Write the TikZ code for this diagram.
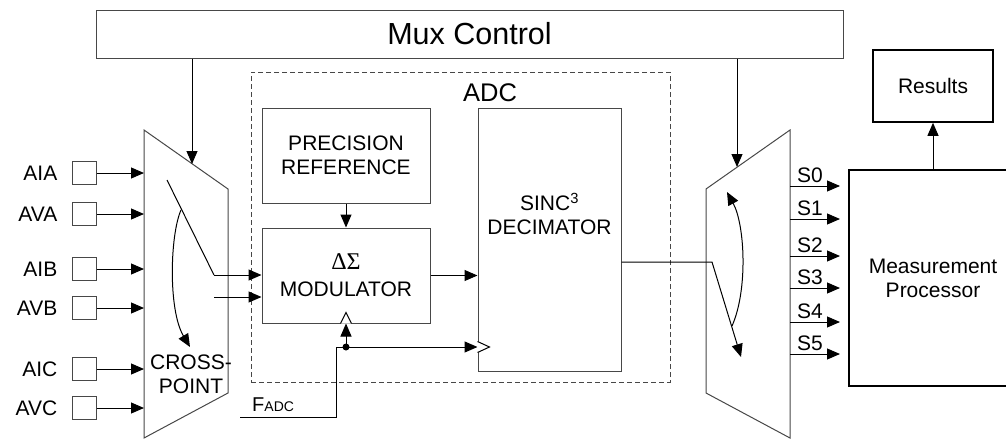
\documentclass[tikz,border=0pt]{standalone}
\usepackage{fontspec}
\setmainfont{Liberation Sans}
\newfontfamily\greekfont{Liberation Serif}
\usetikzlibrary{arrows.meta}
\colorlet{edgegray}{black!72}
\tikzset{
  txt/.style={font=\fontsize{21}{24}\selectfont, align=center, inner sep=0pt},
  blk/.style={txt, draw=edgegray, line width=1pt},
  inbox/.style={draw=edgegray, line width=1pt, minimum width=24pt, minimum height=23pt, inner sep=0pt},
  arr/.style={-{Triangle[length=13pt,width=11pt]}, line width=1pt},
  wire/.style={line width=1pt},
}
\begin{document}
\begin{tikzpicture}[x=1pt, y=-1pt]
\useasboundingbox (0,0) rectangle (1006,439);
\clip (0,0) rectangle (1006,439);

% Mux control
\node[blk, minimum width=747pt, minimum height=48pt, font=\fontsize{30.5}{34}\selectfont] (mux) at (469.5,34) {Mux Control};

% ADC
\node[draw=edgegray, line width=1pt, dash pattern=on 5pt off 3pt, minimum width=419pt, minimum height=310pt] (adc) at (460.5,227) {};
\node[txt, font=\fontsize{25.5}{28}\selectfont] (adclbl) at (490,93) {ADC};
\node[blk, minimum width=168pt, minimum height=95pt] (prec) at (346,155.5) {PRECISION\\REFERENCE};
\node[blk, minimum width=168pt, minimum height=95pt] (mod) at (346,275.5) {{\greekfont\fontsize{24}{24}\selectfont ΔΣ}\\[3pt]MODULATOR};
\node[blk, minimum width=143pt, minimum height=263pt] (dec) at (549.5,239.5) {};
\node[txt] (dectxt) at (549.5,214) {SINC\textsuperscript{3}\\DECIMATOR};
\draw[arr] (prec.south) -- (mod.north);
\draw[arr] (mod.east) -- (mod.east -| dec.west);

% Left crosspoint
\draw[edgegray, line width=1pt] (144,130) coordinate (xl) -- (228,189) -- (228,393) -- (144,438) -- cycle;
\coordinate (xlin) at (192,164);
\draw[arr] (mux.south -| xlin) -- (xlin);
\foreach \n/\y in {AIA/173,AVA/214,AIB/269,AVB/308,AIC/369,AVC/408}{
  \node[inbox] (in\n) at (84,\y) {};
  \node[txt, anchor=east] (lb\n) at (57.5,\y) {\n};
  \draw[arr] (in\n.east) -- (in\n.east -| xl);
}
\coordinate (cs1) at (167,180);
\coordinate (cs2) at (214,275);
\coordinate (cs3) at (214,297);
\draw[wire] (cs1) -- (cs2);
\draw[arr] (cs2) -- (cs2 -| mod.west);
\draw[arr] (cs3) -- (cs3 -| mod.west);
\draw[arr] (181,210) .. controls (170,235) and (168,310) .. (190,347);
\node[txt] (cptxt) at (191,374) {CROSS-\\POINT};

% Clock
\coordinate (clk) at (346,347);
\coordinate (fa) at (240,417);
\draw[arr] (fa) -| ([xshift=-10pt]clk) -- (clk -| dec.west);
\fill (clk) circle (3.5pt);
\draw[arr] (clk) -- (clk |- mod.south);
\draw[wire, fill=white] ([xshift=-5.5pt]mod.south) -- ++(5.5,-11) -- ++(5.5,11);
\draw[wire, fill=white] (clk -| dec.west) ++(0,-5.5) -- ++(12,5.5) -- ++(-12,5.5);
\node[anchor=base west, inner sep=0pt] (fadc) at (252,411) {\fontsize{20}{24}\selectfont F\fontsize{14}{16}\selectfont ADC};

% Right crosspoint
\draw[edgegray, line width=1pt] (706,189) -- (790,130) -- (790,438) -- (706,393) -- cycle;
\coordinate (xrin) at (737,167);
\draw[arr] (mux.south -| xrin) -- (xrin);
\coordinate (rs1) at (712,262);
\coordinate (rs2) at (741,357);
\draw[arr] (rs1 -| dec.east) -- (rs1) -- (rs2);
\draw[arr] (732,326) .. controls (748,290) and (745,225) .. (727,192);
\coordinate (sx) at (840,0);
\foreach \s/\y in {0/186,1/219,2/256,3/288,4/322,5/354}{
  \coordinate (so\s) at (790,\y);
  \draw[arr] (so\s) -- (so\s -| sx);
  \node[txt, anchor=base west] (sl\s) at (797,\y-4) {S\s};
}

% Measurement processor
\node[blk, draw=black, line width=1.6pt, minimum width=168pt, minimum height=216pt] (meas) at (933,278) {Measurement\\Processor};
\node[blk, draw=black, line width=1.6pt, minimum width=120pt, minimum height=72pt] (res) at (933,86) {Results};
\draw[arr] (meas.north) -- (res.south);
\end{tikzpicture}
\end{document}
